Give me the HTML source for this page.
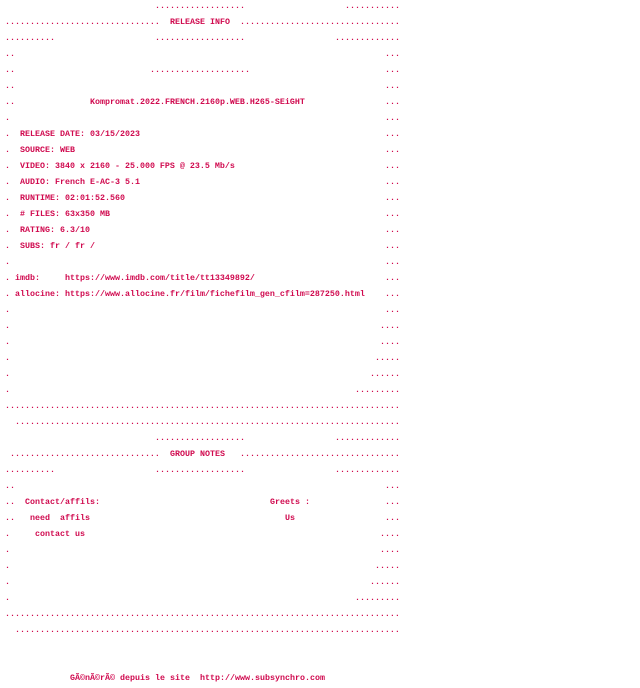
<!DOCTYPE html>
<html><head><meta charset="utf-8"><style>
html,body{margin:0;padding:0;background:#fff;width:640px;height:688px;overflow:hidden}
.r{position:absolute;left:0;width:640px;height:16px}
.r span{position:absolute;top:0;white-space:pre;font-family:"Liberation Mono",monospace;font-size:8.333px;font-weight:bold;line-height:16px;color:#d0094e}
#w{position:absolute;left:0;top:-2px}
</style></head><body><div id="w">
<div class="r" style="top:0px"><span style="left:155px">..................</span><span style="left:345px">...........</span></div>
<div class="r" style="top:16px"><span style="left:5px">...............................</span><span style="left:170px">RELEASE INFO</span><span style="left:240px">................................</span></div>
<div class="r" style="top:32px"><span style="left:5px">..........</span><span style="left:155px">..................</span><span style="left:335px">.............</span></div>
<div class="r" style="top:48px"><span style="left:5px">..</span><span style="left:385px">...</span></div>
<div class="r" style="top:64px"><span style="left:5px">..</span><span style="left:150px">....................</span><span style="left:385px">...</span></div>
<div class="r" style="top:80px"><span style="left:5px">..</span><span style="left:385px">...</span></div>
<div class="r" style="top:96px"><span style="left:5px">..</span><span style="left:90px">Kompromat.2022.FRENCH.2160p.WEB.H265-SEiGHT</span><span style="left:385px">...</span></div>
<div class="r" style="top:112px"><span style="left:5px">.</span><span style="left:385px">...</span></div>
<div class="r" style="top:128px"><span style="left:5px">.</span><span style="left:20px">RELEASE DATE: 03/15/2023</span><span style="left:385px">...</span></div>
<div class="r" style="top:144px"><span style="left:5px">.</span><span style="left:20px">SOURCE: WEB</span><span style="left:385px">...</span></div>
<div class="r" style="top:160px"><span style="left:5px">.</span><span style="left:20px">VIDEO: 3840 x 2160 - 25.000 FPS @ 23.5 Mb/s</span><span style="left:385px">...</span></div>
<div class="r" style="top:176px"><span style="left:5px">.</span><span style="left:20px">AUDIO: French E-AC-3 5.1</span><span style="left:385px">...</span></div>
<div class="r" style="top:192px"><span style="left:5px">.</span><span style="left:20px">RUNTIME: 02:01:52.560</span><span style="left:385px">...</span></div>
<div class="r" style="top:208px"><span style="left:5px">.</span><span style="left:20px"># FILES: 63x350 MB</span><span style="left:385px">...</span></div>
<div class="r" style="top:224px"><span style="left:5px">.</span><span style="left:20px">RATING: 6.3/10</span><span style="left:385px">...</span></div>
<div class="r" style="top:240px"><span style="left:5px">.</span><span style="left:20px">SUBS: fr / fr /</span><span style="left:385px">...</span></div>
<div class="r" style="top:256px"><span style="left:5px">.</span><span style="left:385px">...</span></div>
<div class="r" style="top:272px"><span style="left:5px">.</span><span style="left:15px">imdb:</span><span style="left:65px">https://www.imdb.com/title/tt13349892/</span><span style="left:385px">...</span></div>
<div class="r" style="top:288px"><span style="left:5px">.</span><span style="left:15px">allocine:</span><span style="left:65px">https://www.allocine.fr/film/fichefilm_gen_cfilm=287250.html</span><span style="left:385px">...</span></div>
<div class="r" style="top:304px"><span style="left:5px">.</span><span style="left:385px">...</span></div>
<div class="r" style="top:320px"><span style="left:5px">.</span><span style="left:380px">....</span></div>
<div class="r" style="top:336px"><span style="left:5px">.</span><span style="left:380px">....</span></div>
<div class="r" style="top:352px"><span style="left:5px">.</span><span style="left:375px">.....</span></div>
<div class="r" style="top:368px"><span style="left:5px">.</span><span style="left:370px">......</span></div>
<div class="r" style="top:384px"><span style="left:5px">.</span><span style="left:355px">.........</span></div>
<div class="r" style="top:400px"><span style="left:5px">...............................................................................</span></div>
<div class="r" style="top:416px"><span style="left:15px">.............................................................................</span></div>
<div class="r" style="top:432px"><span style="left:155px">..................</span><span style="left:335px">.............</span></div>
<div class="r" style="top:448px"><span style="left:10px">..............................</span><span style="left:170px">GROUP NOTES</span><span style="left:240px">................................</span></div>
<div class="r" style="top:464px"><span style="left:5px">..........</span><span style="left:155px">..................</span><span style="left:335px">.............</span></div>
<div class="r" style="top:480px"><span style="left:5px">..</span><span style="left:385px">...</span></div>
<div class="r" style="top:496px"><span style="left:5px">..</span><span style="left:25px">Contact/affils:</span><span style="left:270px">Greets :</span><span style="left:385px">...</span></div>
<div class="r" style="top:512px"><span style="left:5px">..</span><span style="left:30px">need</span><span style="left:60px">affils</span><span style="left:285px">Us</span><span style="left:385px">...</span></div>
<div class="r" style="top:528px"><span style="left:5px">.</span><span style="left:35px">contact us</span><span style="left:380px">....</span></div>
<div class="r" style="top:544px"><span style="left:5px">.</span><span style="left:380px">....</span></div>
<div class="r" style="top:560px"><span style="left:5px">.</span><span style="left:375px">.....</span></div>
<div class="r" style="top:576px"><span style="left:5px">.</span><span style="left:370px">......</span></div>
<div class="r" style="top:592px"><span style="left:5px">.</span><span style="left:355px">.........</span></div>
<div class="r" style="top:608px"><span style="left:5px">...............................................................................</span></div>
<div class="r" style="top:624px"><span style="left:15px">.............................................................................</span></div>
<div class="r" style="top:672px"><span style="left:70px">GÃ©nÃ©rÃ©</span><span style="left:120px">depuis le site</span><span style="left:200px">http://www.subsynchro.com</span></div>
</div></body></html>
